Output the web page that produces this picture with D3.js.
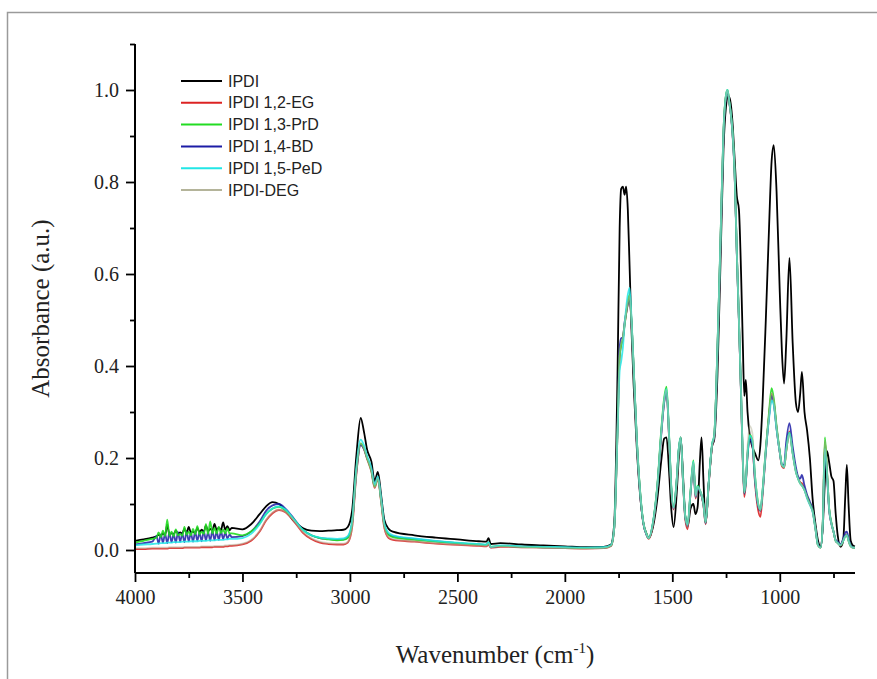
<!DOCTYPE html>
<html>
<head>
<meta charset="utf-8">
<script src="https://cdn.jsdelivr.net/npm/d3@7"></script>
<style>
  body { margin: 0; background: #fff; }
  svg { display: block; }
</style>
</head>
<body>
<div id="vizcont"></div>
<script>

// wavenumber grid (cm-1), shared by every spectrum
var wavenumber = [
  4000, 3960, 3920, 3900, 3890, 3880, 3870, 3860, 3850, 3840, 3830, 3820, 3810, 3800, 3790, 3780, 3770, 3760, 3750, 3740,
  3730, 3720, 3710, 3700, 3690, 3680, 3670, 3660, 3650, 3640, 3630, 3620, 3610, 3600, 3590, 3580, 3570, 3560, 3550,
  3500, 3460, 3420, 3390, 3360, 3330, 3300, 3260, 3220, 3180, 3140, 3100, 3060, 3030, 3010,
  2990, 2970, 2950, 2935, 2920, 2900, 2885, 2870, 2855, 2840, 2820, 2800,
  2700, 2600, 2500, 2400, 2365, 2355, 2345, 2300, 2200, 2100, 2000, 1900, 1820, 1785,
  1770, 1755, 1745, 1738, 1730, 1722, 1715, 1707, 1699, 1690, 1680, 1665, 1650, 1635, 1620,
  1610, 1590, 1570, 1550, 1538, 1527, 1515, 1505, 1494, 1480, 1470, 1461, 1450, 1440, 1429, 1415, 1402, 1392, 1382, 1372, 1364, 1355, 1345, 1330,
  1315, 1305, 1290, 1275, 1262, 1250, 1243, 1235, 1228, 1220, 1210, 1200, 1190, 1180, 1172, 1165, 1158, 1150, 1140, 1128,
  1115, 1100, 1090, 1080, 1065, 1050, 1038, 1028, 1015, 1000, 990, 980, 970, 955, 940, 925, 915, 905, 897, 885,
  873, 860, 847, 835, 822, 810, 800, 790, 780, 770, 760, 750, 740, 730, 717, 705, 695, 688, 680, 670, 660, 650
];

var ipdi = [
  0.020, 0.023, 0.027, 0.030, 0.033, 0.031, 0.036, 0.033, 0.055, 0.034, 0.036, 0.035, 0.042, 0.036, 0.038, 0.036, 0.046, 0.037, 0.050, 0.038,
  0.040, 0.037, 0.048, 0.039, 0.044, 0.040, 0.053, 0.041, 0.046, 0.042, 0.057, 0.043, 0.049, 0.043, 0.060, 0.044, 0.052, 0.043, 0.048,
  0.045, 0.056, 0.078, 0.095, 0.104, 0.100, 0.086, 0.062, 0.048, 0.042, 0.041, 0.042, 0.043, 0.044, 0.050,
  0.085, 0.205, 0.287, 0.258, 0.218, 0.192, 0.150, 0.170, 0.120, 0.066, 0.046, 0.040,
  0.032, 0.027, 0.023, 0.019, 0.018, 0.026, 0.013, 0.015, 0.012, 0.010, 0.008, 0.006, 0.007, 0.012,
  0.060, 0.380, 0.700, 0.785, 0.790, 0.772, 0.790, 0.740, 0.620, 0.480, 0.360, 0.220, 0.120, 0.060, 0.035,
  0.026, 0.050, 0.110, 0.200, 0.242, 0.245, 0.170, 0.090, 0.050, 0.120, 0.200, 0.245, 0.160, 0.075, 0.050, 0.090, 0.100, 0.078, 0.095, 0.190, 0.245, 0.150, 0.058, 0.150,
  0.225, 0.240, 0.380, 0.640, 0.870, 0.965, 0.985, 0.985, 0.970, 0.930, 0.850, 0.770, 0.740, 0.600, 0.450, 0.335, 0.370, 0.300, 0.250, 0.225,
  0.210, 0.195, 0.230, 0.320, 0.500, 0.700, 0.845, 0.880, 0.780, 0.560, 0.430, 0.362, 0.450, 0.635, 0.450, 0.320, 0.300, 0.340, 0.387, 0.300,
  0.260, 0.200, 0.110, 0.060, 0.020, 0.007, 0.050, 0.150, 0.215, 0.190, 0.160, 0.150, 0.080, 0.030, 0.007, 0.020, 0.120, 0.185, 0.100, 0.020, 0.010, 0.008
];

var ipdi_eg = [
  0.002, 0.002, 0.003, 0.003, 0.003, 0.003, 0.003, 0.003, 0.003, 0.004, 0.004, 0.004, 0.004, 0.004, 0.004, 0.004, 0.005, 0.005, 0.005, 0.005,
  0.005, 0.005, 0.005, 0.005, 0.006, 0.006, 0.006, 0.006, 0.006, 0.006, 0.007, 0.007, 0.007, 0.007, 0.007, 0.008, 0.008, 0.009, 0.009,
  0.012, 0.020, 0.040, 0.064, 0.080, 0.087, 0.082, 0.062, 0.038, 0.024, 0.016, 0.013, 0.012, 0.012, 0.016,
  0.048, 0.165, 0.230, 0.220, 0.198, 0.170, 0.135, 0.155, 0.105, 0.048, 0.026, 0.022,
  0.018, 0.014, 0.011, 0.009, 0.008, 0.012, 0.005, 0.007, 0.006, 0.005, 0.004, 0.003, 0.004, 0.009,
  0.048, 0.255, 0.420, 0.445, 0.458, 0.490, 0.512, 0.535, 0.550, 0.495, 0.395, 0.235, 0.125, 0.058, 0.033,
  0.024, 0.056, 0.135, 0.262, 0.322, 0.345, 0.242, 0.132, 0.088, 0.146, 0.216, 0.242, 0.146, 0.068, 0.045, 0.125, 0.188, 0.112, 0.135, 0.128, 0.118, 0.096, 0.056, 0.146,
  0.226, 0.246, 0.435, 0.685, 0.905, 0.988, 0.998, 0.973, 0.948, 0.908, 0.818, 0.648, 0.498, 0.336, 0.190, 0.115, 0.145, 0.205, 0.245, 0.232,
  0.145, 0.085, 0.072, 0.120, 0.212, 0.292, 0.340, 0.322, 0.265, 0.212, 0.182, 0.178, 0.215, 0.258, 0.212, 0.172, 0.157, 0.147, 0.145, 0.132,
  0.116, 0.100, 0.084, 0.050, 0.010, 0.005, 0.058, 0.235, 0.168, 0.088, 0.058, 0.040, 0.020, 0.015, 0.010, 0.022, 0.032, 0.034, 0.020, 0.008, 0.005, 0.005
];

var ipdi_prd = [
  0.016, 0.020, 0.024, 0.027, 0.038, 0.028, 0.042, 0.030, 0.066, 0.031, 0.040, 0.030, 0.045, 0.032, 0.035, 0.031, 0.050, 0.033, 0.040, 0.032,
  0.046, 0.034, 0.052, 0.034, 0.040, 0.035, 0.056, 0.035, 0.062, 0.036, 0.048, 0.036, 0.050, 0.037, 0.044, 0.036, 0.047, 0.036, 0.036,
  0.032, 0.040, 0.058, 0.078, 0.090, 0.094, 0.086, 0.066, 0.044, 0.032, 0.026, 0.023, 0.021, 0.022, 0.026,
  0.058, 0.175, 0.232, 0.222, 0.200, 0.172, 0.138, 0.156, 0.108, 0.054, 0.033, 0.028,
  0.022, 0.018, 0.015, 0.012, 0.011, 0.016, 0.007, 0.009, 0.007, 0.006, 0.005, 0.004, 0.005, 0.010,
  0.050, 0.260, 0.420, 0.445, 0.460, 0.490, 0.515, 0.540, 0.555, 0.500, 0.400, 0.240, 0.130, 0.060, 0.035,
  0.026, 0.060, 0.140, 0.270, 0.330, 0.355, 0.250, 0.140, 0.093, 0.150, 0.220, 0.245, 0.150, 0.075, 0.055, 0.130, 0.195, 0.120, 0.140, 0.130, 0.120, 0.100, 0.060, 0.150,
  0.230, 0.250, 0.440, 0.690, 0.910, 0.990, 1.000, 0.975, 0.950, 0.910, 0.820, 0.650, 0.500, 0.340, 0.200, 0.125, 0.150, 0.210, 0.250, 0.240,
  0.160, 0.100, 0.087, 0.130, 0.220, 0.300, 0.352, 0.330, 0.270, 0.215, 0.185, 0.180, 0.215, 0.255, 0.210, 0.170, 0.155, 0.145, 0.140, 0.130,
  0.115, 0.100, 0.085, 0.050, 0.010, 0.005, 0.060, 0.245, 0.170, 0.090, 0.060, 0.040, 0.020, 0.015, 0.010, 0.020, 0.030, 0.032, 0.020, 0.008, 0.005, 0.005
];

var ipdi_bd = [
  0.012, 0.015, 0.018, 0.030, 0.014, 0.034, 0.016, 0.036, 0.015, 0.038, 0.017, 0.035, 0.016, 0.039, 0.018, 0.036, 0.017, 0.040, 0.019, 0.037,
  0.018, 0.040, 0.020, 0.038, 0.019, 0.041, 0.021, 0.039, 0.020, 0.042, 0.022, 0.040, 0.022, 0.041, 0.024, 0.038, 0.025, 0.034, 0.028,
  0.030, 0.040, 0.062, 0.085, 0.097, 0.100, 0.090, 0.068, 0.045, 0.032, 0.026, 0.024, 0.022, 0.023, 0.028,
  0.058, 0.170, 0.228, 0.220, 0.200, 0.175, 0.140, 0.158, 0.110, 0.055, 0.034, 0.030,
  0.024, 0.019, 0.015, 0.012, 0.011, 0.016, 0.006, 0.009, 0.007, 0.006, 0.005, 0.004, 0.005, 0.010,
  0.050, 0.270, 0.440, 0.460, 0.462, 0.495, 0.515, 0.535, 0.550, 0.495, 0.395, 0.235, 0.125, 0.058, 0.033,
  0.026, 0.058, 0.135, 0.260, 0.320, 0.345, 0.245, 0.135, 0.090, 0.148, 0.218, 0.243, 0.148, 0.072, 0.052, 0.125, 0.185, 0.115, 0.135, 0.128, 0.118, 0.098, 0.058, 0.148,
  0.228, 0.245, 0.430, 0.680, 0.900, 0.985, 0.995, 0.972, 0.948, 0.905, 0.815, 0.645, 0.495, 0.335, 0.195, 0.122, 0.148, 0.205, 0.240, 0.230,
  0.150, 0.095, 0.085, 0.125, 0.215, 0.290, 0.335, 0.320, 0.265, 0.212, 0.185, 0.185, 0.235, 0.276, 0.225, 0.180, 0.160, 0.155, 0.163, 0.140,
  0.120, 0.105, 0.088, 0.052, 0.012, 0.006, 0.055, 0.225, 0.160, 0.085, 0.058, 0.040, 0.022, 0.018, 0.012, 0.025, 0.038, 0.040, 0.025, 0.010, 0.006, 0.005
];

var ipdi_ped = [
  0.010, 0.012, 0.013, 0.014, 0.014, 0.015, 0.015, 0.015, 0.016, 0.016, 0.016, 0.017, 0.017, 0.017, 0.017, 0.018, 0.018, 0.018, 0.018, 0.019,
  0.019, 0.019, 0.019, 0.020, 0.020, 0.020, 0.020, 0.021, 0.021, 0.021, 0.021, 0.022, 0.022, 0.022, 0.022, 0.023, 0.023, 0.024, 0.024,
  0.026, 0.035, 0.056, 0.078, 0.090, 0.095, 0.088, 0.066, 0.044, 0.032, 0.027, 0.025, 0.024, 0.025, 0.030,
  0.062, 0.180, 0.240, 0.228, 0.205, 0.178, 0.142, 0.160, 0.112, 0.058, 0.037, 0.032,
  0.025, 0.020, 0.016, 0.013, 0.012, 0.017, 0.007, 0.010, 0.008, 0.007, 0.006, 0.005, 0.006, 0.011,
  0.050, 0.250, 0.390, 0.410, 0.440, 0.490, 0.525, 0.555, 0.570, 0.505, 0.400, 0.240, 0.128, 0.060, 0.034,
  0.026, 0.060, 0.138, 0.265, 0.325, 0.350, 0.248, 0.138, 0.092, 0.150, 0.220, 0.245, 0.150, 0.074, 0.055, 0.128, 0.192, 0.118, 0.138, 0.130, 0.120, 0.100, 0.060, 0.150,
  0.230, 0.250, 0.440, 0.690, 0.910, 0.990, 1.000, 0.975, 0.950, 0.910, 0.820, 0.650, 0.500, 0.340, 0.200, 0.125, 0.150, 0.210, 0.248, 0.238,
  0.158, 0.098, 0.088, 0.128, 0.215, 0.285, 0.325, 0.315, 0.262, 0.212, 0.185, 0.180, 0.218, 0.255, 0.210, 0.170, 0.155, 0.145, 0.140, 0.130,
  0.112, 0.098, 0.082, 0.048, 0.010, 0.005, 0.058, 0.220, 0.165, 0.088, 0.058, 0.040, 0.020, 0.015, 0.010, 0.020, 0.030, 0.033, 0.020, 0.008, 0.005, 0.005
];

var ipdi_deg = [
  0.004, 0.004, 0.005, 0.005, 0.005, 0.005, 0.005, 0.005, 0.005, 0.006, 0.006, 0.006, 0.006, 0.006, 0.006, 0.006, 0.007, 0.007, 0.007, 0.007,
  0.007, 0.007, 0.007, 0.007, 0.008, 0.008, 0.008, 0.008, 0.008, 0.008, 0.009, 0.009, 0.009, 0.009, 0.009, 0.010, 0.010, 0.011, 0.011,
  0.014, 0.022, 0.042, 0.066, 0.082, 0.088, 0.083, 0.063, 0.040, 0.026, 0.018, 0.015, 0.014, 0.014, 0.018,
  0.050, 0.168, 0.232, 0.221, 0.199, 0.171, 0.136, 0.156, 0.106, 0.050, 0.028, 0.024,
  0.019, 0.015, 0.012, 0.010, 0.009, 0.013, 0.006, 0.008, 0.006, 0.005, 0.004, 0.003, 0.004, 0.009,
  0.048, 0.258, 0.425, 0.450, 0.462, 0.492, 0.515, 0.538, 0.552, 0.498, 0.398, 0.238, 0.128, 0.060, 0.034,
  0.025, 0.058, 0.137, 0.265, 0.325, 0.348, 0.245, 0.135, 0.090, 0.148, 0.218, 0.244, 0.148, 0.072, 0.050, 0.127, 0.190, 0.115, 0.137, 0.130, 0.120, 0.098, 0.058, 0.148,
  0.228, 0.248, 0.438, 0.688, 0.908, 0.989, 0.999, 0.974, 0.949, 0.909, 0.819, 0.650, 0.500, 0.340, 0.198, 0.125, 0.155, 0.225, 0.270, 0.255,
  0.160, 0.098, 0.086, 0.128, 0.218, 0.295, 0.342, 0.325, 0.268, 0.213, 0.184, 0.180, 0.216, 0.252, 0.210, 0.170, 0.155, 0.145, 0.140, 0.130,
  0.114, 0.099, 0.084, 0.049, 0.010, 0.005, 0.058, 0.238, 0.168, 0.088, 0.058, 0.040, 0.020, 0.015, 0.010, 0.020, 0.030, 0.032, 0.020, 0.008, 0.005, 0.005
];

var seriesNames = ["IPDI", "IPDI 1,2-EG", "IPDI 1,3-PrD", "IPDI 1,4-BD", "IPDI 1,5-PeD", "IPDI-DEG"];
var seriesValues = [ipdi, ipdi_eg, ipdi_prd, ipdi_bd, ipdi_ped, ipdi_deg];
var seriesColors = ["#000000", "#dc2323", "#22dc22", "#1c1ca6", "#22e6e6", "#b4b49a"];

var xMajorTicks = [4000, 3500, 3000, 2500, 2000, 1500, 1000];
var xMinorTicks = [3750, 3250, 2750, 2250, 1750, 1250, 750];
var yMajorTicks = [0.0, 0.2, 0.4, 0.6, 0.8, 1.0];
var yMinorTicks = [0.1, 0.3, 0.5, 0.7, 0.9, 1.1];


var W = 877, H = 679;
var margin = {top: 44, right: 22, bottom: 106, left: 135};
var width = W - margin.left - margin.right;
var height = H - margin.top - margin.bottom;

var svg = d3.select("#vizcont")
    .append("svg")
    .attr("width", W)
    .attr("height", H);

// grey frame round the figure
svg.append("rect")
    .attr("x", 7.5)
    .attr("y", 12.5)
    .attr("width", W)
    .attr("height", H)
    .attr("fill", "none")
    .attr("stroke", "#9a9a9a")
    .attr("stroke-width", 1.5);

var g = svg.append("g")
    .attr("transform", "translate(" + margin.left + "," + margin.top + ")");

var x = d3.scaleLinear().domain([4000, 650]).range([0, width]);
var y = d3.scaleLinear().domain([-0.05, 1.1]).range([height, 0]);

var line = d3.line()
    .x(function(d) { return x(d[0]); })
    .y(function(d) { return y(d[1]); })
    .curve(d3.curveMonotoneX);

// spectra; black first, the overlapping ones blend on top of it
var drawOrder = [0, 1, 3, 2, 4, 5];
var lineOpacity = [1, 0.9, 0.9, 0.85, 0.85, 0.5];
drawOrder.forEach(function(i) {
    var vals = seriesValues[i];
    var pts = wavenumber.map(function(w, k) { return [w, vals[k]]; });
    g.append("path")
        .datum(pts)
        .attr("fill", "none")
        .attr("stroke", seriesColors[i])
        .attr("stroke-width", 1.8)
        .attr("stroke-linejoin", "round")
        .attr("stroke-opacity", lineOpacity[i])
        .attr("d", line);
});

var serif = "'Liberation Serif', 'Times New Roman', serif";

// x axis
var xAxis = g.append("g")
    .attr("transform", "translate(0," + height + ")")
    .call(d3.axisBottom(x).tickValues(xMajorTicks).tickSize(9).tickPadding(8).tickFormat(d3.format("d")));
g.append("g")
    .attr("transform", "translate(0," + height + ")")
    .call(d3.axisBottom(x).tickValues(xMinorTicks).tickSize(5).tickFormat(""))
    .select(".domain").remove();

// y axis
var yAxis = g.append("g")
    .call(d3.axisLeft(y).tickValues(yMajorTicks).tickSize(9).tickPadding(7).tickFormat(d3.format(".1f")));
g.append("g")
    .call(d3.axisLeft(y).tickValues(yMinorTicks).tickSize(5).tickFormat(""))
    .select(".domain").remove();

g.selectAll(".domain").attr("stroke-width", 2);
xAxis.select(".domain").attr("d", "M0,0H" + width);
yAxis.select(".domain").attr("d", "M0," + height + "V0");
g.selectAll(".tick line").attr("stroke-width", 1.8);
g.selectAll(".tick text")
    .style("font-family", serif)
    .style("font-size", "20px")
    .attr("fill", "#222");

// axis titles
var xTitle = svg.append("text")
    .attr("x", margin.left + width / 2)
    .attr("y", 663)
    .attr("text-anchor", "middle")
    .style("font-family", serif)
    .style("font-size", "25px")
    .attr("fill", "#222");
xTitle.append("tspan").text("Wavenumber (cm");
xTitle.append("tspan").attr("dy", -10).style("font-size", "15px").text("-1");
xTitle.append("tspan").attr("dy", 10).text(")");

svg.append("text")
    .attr("transform", "translate(49," + (margin.top + height / 2) + ") rotate(-90)")
    .attr("text-anchor", "middle")
    .style("font-family", serif)
    .style("font-size", "25px")
    .attr("fill", "#222")
    .text("Absorbance (a.u.)");

// legend
var legend = svg.append("g")
    .selectAll("g")
    .data(seriesNames)
    .enter()
    .append("g")
    .attr("transform", function(d, i) { return "translate(181," + (81 + i * 21.8) + ")"; });

legend.append("line")
    .attr("x1", 0)
    .attr("x2", 41)
    .attr("stroke", function(d, i) { return seriesColors[i]; })
    .attr("stroke-width", 2);

legend.append("text")
    .attr("x", 47)
    .attr("dy", "0.35em")
    .style("font-family", "'Liberation Sans', Arial, sans-serif")
    .style("font-size", "16px")
    .attr("fill", "#222")
    .text(function(d) { return d; });

</script>
</body>
</html>
